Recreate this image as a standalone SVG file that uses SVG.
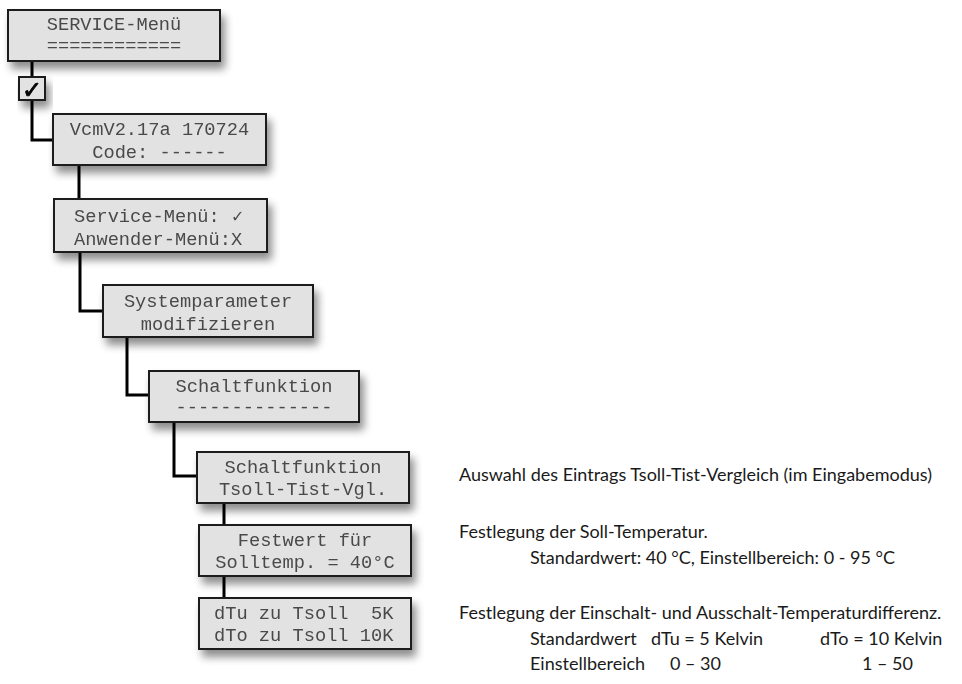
<svg xmlns="http://www.w3.org/2000/svg" width="962" height="684" viewBox="0 0 962 684">
<defs>
<filter id="sh" x="-20%" y="-30%" width="150%" height="180%">
<feGaussianBlur in="SourceAlpha" stdDeviation="4"/>
<feOffset dx="4" dy="7" result="b"/>
<feComponentTransfer><feFuncA type="linear" slope="0.45"/></feComponentTransfer>
<feMerge><feMergeNode/><feMergeNode in="SourceGraphic"/></feMerge>
</filter>
</defs>
<style>
.box{fill:#e2e2e2;stroke:#1c1c1c;stroke-width:2}
.mono{font-family:"Liberation Mono","DejaVu Sans Mono",monospace;font-size:18.7px;fill:#4a4a4a}
.c{text-anchor:middle}
.con{fill:none;stroke:#000;stroke-width:3}
.note{font-family:Lato,"Open Sans",sans-serif;font-size:18px;fill:#1a1a1a}
</style>
<rect width="962" height="684" fill="#fff"/>
<g id="connectors">
<path class="con" d="M32,61 V77 M32,100 V140 H53"/>
<path class="con" d="M79,165 V198"/>
<path class="con" d="M80,253 V311 H103"/>
<path class="con" d="M127,337 V395 H149"/>
<path class="con" d="M174,422 V476 H197"/>
<path class="con" d="M224,503 V525"/>
<path class="con" d="M224,576 V598"/>
</g>
<g id="n1" filter="url(#sh)">
<rect class="box" x="8" y="10" width="212" height="51"/>
<text class="mono c" x="114" y="30">SERVICE-Menü</text>
<text class="mono c" x="114" y="51">============</text>
</g>
<g id="check" filter="url(#sh)">
<rect class="box" x="19" y="77" width="26" height="23" stroke-width="1.5"/>
<text x="32" y="98" text-anchor="middle" font-family="DejaVu Sans,sans-serif" font-size="24" fill="#000" stroke="#000" stroke-width="0.8">✓</text>
</g>
<g id="n2" filter="url(#sh)">
<rect class="box" x="53" y="114" width="213" height="51"/>
<text class="mono c" x="159.5" y="135">VcmV2.17a 170724</text>
<text class="mono c" x="159.5" y="158">Code: ------</text>
</g>
<g id="n3" filter="url(#sh)">
<rect class="box" x="54" y="199" width="213" height="53"/>
<text class="mono" x="74" y="222">Service-Menü: <tspan font-family="DejaVu Sans,sans-serif" font-size="16">✓</tspan></text>
<text class="mono" x="74" y="245">Anwender-Menü:X</text>
</g>
<g id="n4" filter="url(#sh)">
<rect class="box" x="103" y="285" width="210" height="52"/>
<text class="mono c" x="208" y="307">Systemparameter</text>
<text class="mono c" x="208" y="330">modifizieren</text>
</g>
<g id="n5" filter="url(#sh)">
<rect class="box" x="149" y="371" width="210" height="51"/>
<text class="mono c" x="254" y="392">Schaltfunktion</text>
<text class="mono c" x="254" y="413">--------------</text>
</g>
<g id="n6" filter="url(#sh)">
<rect class="box" x="197" y="452" width="212" height="51"/>
<text class="mono c" x="303" y="473">Schaltfunktion</text>
<text class="mono c" x="303" y="495">Tsoll-Tist-Vgl.</text>
</g>
<g id="n7" filter="url(#sh)">
<rect class="box" x="199" y="525" width="212" height="51"/>
<text class="mono c" x="305" y="546">Festwert für</text>
<text class="mono c" x="305" y="568">Solltemp. = 40°C</text>
</g>
<g id="n8" filter="url(#sh)">
<rect class="box" x="199" y="598" width="212" height="51"/>
<text class="mono" x="214" y="619" xml:space="preserve">dTu zu Tsoll  5K</text>
<text class="mono" x="214" y="641">dTo zu Tsoll 10K</text>
</g>
<g id="notes">
<text class="note" x="459" y="481">Auswahl des Eintrags Tsoll-Tist-Vergleich (im Eingabemodus)</text>
<text class="note" x="459" y="538">Festlegung der Soll-Temperatur.</text>
<text class="note" x="530" y="564">Standardwert: 40 °C, Einstellbereich: 0 - 95 °C</text>
<text class="note" x="459" y="619">Festlegung der Einschalt- und Ausschalt-Temperaturdifferenz.</text>
<text class="note" x="530" y="645">Standardwert</text>
<text class="note" x="651" y="645">dTu = 5 Kelvin</text>
<text class="note" x="820" y="645">dTo = 10 Kelvin</text>
<text class="note" x="530" y="670">Einstellbereich</text>
<text class="note" x="670" y="670">0 – 30</text>
<text class="note" x="862" y="670">1 – 50</text>
</g>
</svg>
